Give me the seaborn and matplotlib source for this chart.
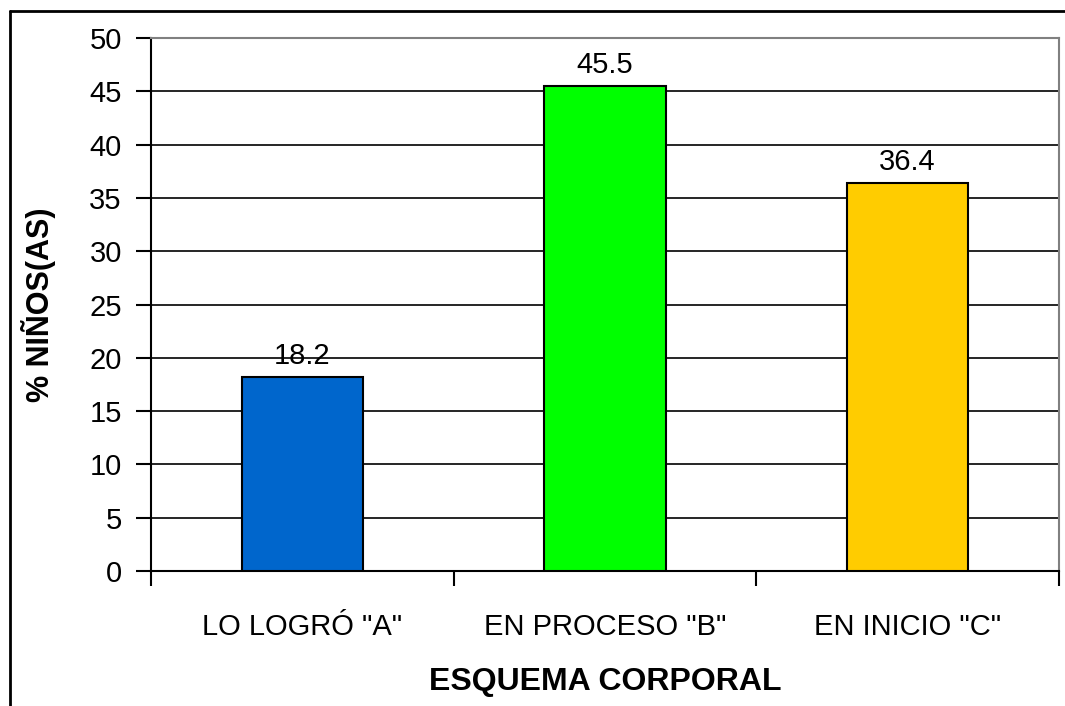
import matplotlib
matplotlib.use("Agg")
import matplotlib.pyplot as plt
import seaborn as sns
import pandas as pd
from matplotlib.lines import Line2D

categories = ['LO LOGRÓ "A"', 'EN PROCESO "B"', 'EN INICIO "C"']
values = [18.2, 45.5, 36.4]
colors = ["#0066CC", "#00FF00", "#FFCC00"]
yticks = [0, 5, 10, 15, 20, 25, 30, 35, 40, 45, 50]

sns.set_theme(style="white")
plt.rcParams["font.family"] = ["Liberation Sans", "DejaVu Sans"]

df = pd.DataFrame({"cat": categories, "val": values})

fig = plt.figure(figsize=(10.65, 7.06), dpi=100)
ax = fig.add_axes([151 / 1065, 1 - 571 / 706, (1059 - 151) / 1065, (571 - 38) / 706])

sns.barplot(data=df, x="cat", y="val", hue="cat", palette=colors, legend=False,
            saturation=1, width=0.4, edgecolor="black", linewidth=1.5, ax=ax, zorder=3)

ax.set_ylim(0, 50)
ax.set_xlim(-0.5, 2.5)
ax.set_yticks(yticks)
ax.set_yticklabels([str(t) for t in yticks], fontsize=21, color="black")
ax.yaxis.grid(True, color="black", linewidth=1.2, zorder=0)
ax.set_axisbelow(True)

# category tick marks at boundaries
ax.set_xticks([-0.5, 0.5, 1.5, 2.5], minor=False)
ax.set_xticklabels([])
ax.set_xticks([0, 1, 2], minor=True)
ax.set_xticklabels(categories, minor=True, fontsize=21, color="black")
ax.tick_params(axis="x", which="major", direction="out", length=11, width=1.5, color="black", bottom=True)
ax.tick_params(axis="x", which="minor", length=0, pad=30)
ax.tick_params(axis="y", direction="out", length=11, width=1.5, color="black", left=True, pad=10)

for s in ["left", "bottom"]:
    ax.spines[s].set_color("black")
    ax.spines[s].set_linewidth(1.5)
for s in ["top", "right"]:
    ax.spines[s].set_color("#808080")
    ax.spines[s].set_linewidth(1.5)

for i, v in enumerate(values):
    ax.annotate(f"{v}", (i, v), xytext=(0, 5), textcoords="offset points",
                ha="center", va="bottom", fontsize=21, color="black")

ax.set_xlabel("ESQUEMA CORPORAL", fontsize=23, fontweight="bold", color="black", labelpad=19)
ax.set_ylabel("% NIÑOS(AS)", fontsize=22, fontweight="bold", color="black", labelpad=24)

# figure frame (left and top visible)
fig.add_artist(Line2D([10 / 1065, 10 / 1065], [0, 1 - 11 / 706], transform=fig.transFigure, color="black", lw=2))
fig.add_artist(Line2D([10 / 1065, 1], [1 - 11 / 706, 1 - 11 / 706], transform=fig.transFigure, color="black", lw=2))

fig.savefig("out.png", dpi=100)
